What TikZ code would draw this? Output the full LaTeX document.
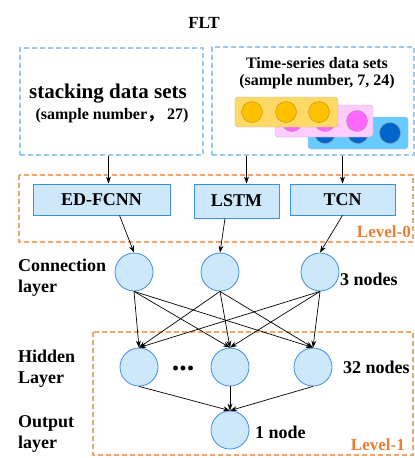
\documentclass[tikz,border=0pt]{standalone}
\usepackage{fontspec}
\setmainfont{Liberation Serif}
\newfontfamily\cjk{Noto Sans CJK SC}
\usetikzlibrary{arrows.meta}
\definecolor{cellfill}{HTML}{CDE8FB}
\definecolor{cellline}{HTML}{3D8EE8}
\definecolor{setline}{HTML}{9CC8F0}
\definecolor{lvline}{HTML}{F4A46A}
\definecolor{lvtext}{HTML}{ED7D31}
\tikzset{
  neuron/.style={circle,draw=cellline,fill=cellfill,minimum size=38pt,inner sep=0pt,line width=0.8pt},
  model/.style={draw=cellline,fill=cellfill,minimum height=31pt,inner sep=0pt,line width=0.8pt,font=\bfseries\fontsize{18}{18}\selectfont},
  setbox/.style={draw=setline,dash pattern=on 5pt off 3pt,line width=1.1pt,inner sep=0pt},
  lvbox/.style={draw=lvline,dash pattern=on 5pt off 3pt,line width=1.1pt},
  lyr/.style={font=\bfseries\fontsize{18}{21}\selectfont,align=left,anchor=west,inner sep=0pt},
  lvl/.style={font=\bfseries\fontsize{17}{17}\selectfont,text=lvtext,inner sep=0pt,anchor=east},
  link/.style={-{Stealth[length=7pt,width=5pt]},line width=0.7pt},
}
\begin{document}
\begin{tikzpicture}[x=1pt,y=-1pt]
  \useasboundingbox (0,0) rectangle (415,458);
  \node[font=\bfseries\fontsize{17}{17}\selectfont] (title) at (204,23) {FLT};
  \node[setbox,minimum width=183pt,minimum height=107pt] (stack) at (111.5,101.5) {}; %left data set
  \node[setbox,minimum width=202pt,minimum height=108pt] (series) at (313,101) {}; %right data set
  \node[font=\bfseries\fontsize{21}{21}\selectfont] (stacktxt) at (108,94) {stacking data sets};
  \node[font=\bfseries\fontsize{16}{16}\selectfont] (stacknum) at (112,116) {(sample number{\cjk ，} 27)};
  \node[font=\bfseries\fontsize{16}{16}\selectfont] (seriestxt) at (317,63) {Time-series data sets};
  \node[font=\bfseries\fontsize{16}{16}\selectfont] (seriesnum) at (317,82) {(sample number, 7, 24)};
  \draw[fill={rgb,255:red,102;green,204;blue,255},draw=black!30,rounded corners=3pt] (308,117) rectangle (408,149); %blue layer
  \foreach \cx in {325,358,390} \draw[fill={rgb,255:red,0;green,102;blue,204},draw=black!40] (\cx,133) circle (10.5);
  \draw[fill={rgb,255:red,255;green,204;blue,255},draw=black!30,rounded corners=3pt] (275,105) rectangle (373,137); %pink layer
  \foreach \cx in {292,325,357} \draw[fill={rgb,255:red,255;green,102;blue,255},draw=black!40] (\cx,121) circle (10.5);
  \draw[fill={rgb,255:red,255;green,217;blue,102},draw=black!30,rounded corners=3pt] (235,97) rectangle (338,127); %yellow layer
  \foreach \cx in {252,286,319} \draw[fill={rgb,255:red,255;green,192;blue,0},draw={rgb,255:red,191;green,144;blue,0}] (\cx,112) circle (10.5);
  \draw[lvbox] (19,175) rectangle (413,242); %Level-0
  \node[lvl] (lv0) at (411,232) {Level-0};
  \node[model,minimum width=137pt] (ed) at (101.5,199.5) {ED-FCNN};
  \node[model,minimum width=85pt,minimum height=34pt] (lstm) at (236.5,201) {LSTM};
  \node[model,minimum width=105pt] (tcn) at (342.5,199.5) {TCN};
  \draw[link] ([xshift=-3pt]stack.south) -- ([xshift=-3pt]stack.south |- ed.north);
  \draw[link] ([xshift=10pt]lstm.north |- series.south) -- ([xshift=10pt]lstm.north);
  \draw[link] (tcn.north |- series.south) -- (tcn.north);
  \node[neuron] (c1) at (134,272) {};
  \node[neuron] (c2) at (220,272) {};
  \node[neuron] (c3) at (320,272) {};
  \draw[link] ([xshift=18pt]ed.south) -- (c1.north);
  \draw[link] ([xshift=-11.5pt]lstm.south) -- (c2.north);
  \draw[link] (tcn.south) -- (c3.north);
  \node[lyr] (conn) at (18,277.5) {Connection\\layer};
  \node[lyr] (n3) at (340,279) {3 nodes};
  \draw[lvbox] (93,332) rectangle (413,455); %Level-1
  \node[lvl] (lv1) at (405,445) {Level-1};
  \node[neuron] (h1) at (139,367) {};
  \node[neuron] (h2) at (230,367) {};
  \node[neuron] (h3) at (313,367) {};
  \node[font=\bfseries\fontsize{30}{30}\selectfont,inner sep=0pt] (dots) at (183,368) {...};
  \foreach \i in {1,2,3}
    \foreach \j in {1,2,3}
      \draw[link] (c\i.south) -- (h\j.north);
  \node[lyr] (hid) at (18,369) {Hidden\\Layer};
  \node[lyr] (n32) at (343,367) {32 nodes};
  \node[neuron] (out) at (230,430) {};
  \foreach \j in {1,2,3} \draw[link] (h\j.south) -- (out.north);
  \node[lyr] (outl) at (18,434) {Output\\layer};
  \node[lyr] (n1) at (255,432) {1 node};
\end{tikzpicture}
\end{document}
